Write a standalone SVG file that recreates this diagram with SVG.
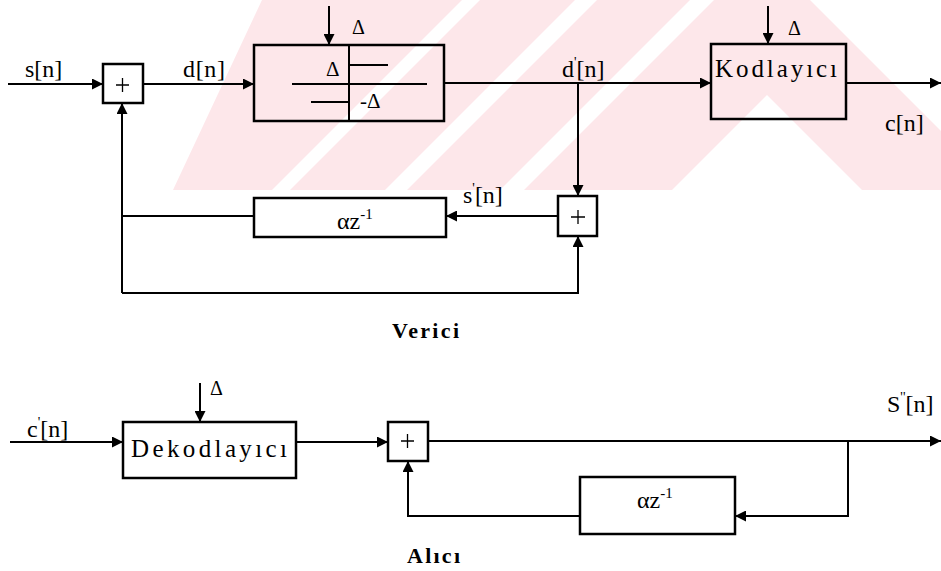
<svg xmlns="http://www.w3.org/2000/svg" width="941" height="571" viewBox="0 0 941 571">
<style>
  .ln{fill:none;stroke:#000;stroke-width:2}
  .bx{fill:none;stroke:#000;stroke-width:2.5}
  .pl{fill:none;stroke:#000;stroke-width:1.3}
  text{font-family:'Liberation Serif','DejaVu Serif',serif;fill:#000}
  .b{font-weight:bold}
  .wm{fill:#fde7ea}
  .wh{fill:#fff}
</style>
<defs>
  <marker id="ar" viewBox="0 0 10 10" refX="10" refY="5" markerWidth="11" markerHeight="11" markerUnits="userSpaceOnUse" orient="auto">
    <path d="M0,0 L10,5 L0,10 z" fill="#000"/>
  </marker>
</defs>
<rect width="941" height="571" fill="#fff"/>
<g id="watermark">
  <polygon class="wm" points="262,0 810,0 941,131 941,190 173,190"/>
  <polygon class="wh" points="767,95 672,190 862,190"/>
  <polygon class="wh" points="462,0 480,0 290,190 272,190"/>
  <polygon class="wh" points="575,0 597,0 407,190 385,190"/>
  <polygon class="wh" points="690,0 714,0 524,190 500,190"/>
</g>
<g id="connectors">
  <path class="ln" d="M8,84 H103" marker-end="url(#ar)"/>
  <path class="ln" d="M143,84 H254" marker-end="url(#ar)"/>
  <path class="ln" d="M329,6 V45" marker-end="url(#ar)"/>
  <path class="ln" d="M444,83 H711" marker-end="url(#ar)"/>
  <path class="ln" d="M768,6 V44" marker-end="url(#ar)"/>
  <path class="ln" d="M846,83 H941" marker-end="url(#ar)"/>
  <path class="ln" d="M578,83 V196" marker-end="url(#ar)"/>
  <path class="ln" d="M558,216 H446" marker-end="url(#ar)"/>
  <path class="ln" d="M254,216 H122"/>
  <path class="ln" d="M122,216 V293"/>
  <path class="ln" d="M122,216 V103" marker-end="url(#ar)"/>
  <path class="ln" d="M122,293 H578 V236" marker-end="url(#ar)"/>
  <path class="ln" d="M10,442 H123" marker-end="url(#ar)"/>
  <path class="ln" d="M200,383 V422" marker-end="url(#ar)"/>
  <path class="ln" d="M296,442 H388" marker-end="url(#ar)"/>
  <path class="ln" d="M428,441 H941" marker-end="url(#ar)"/>
  <path class="ln" d="M848,441 V516 H735" marker-end="url(#ar)"/>
  <path class="ln" d="M580,516 H408 V461" marker-end="url(#ar)"/>
</g>
<g id="adder1">
  <rect class="bx" x="103" y="64" width="40" height="39"/>
  <path class="pl" d="M116,85 H129 M122.5,78 V92"/>
</g>
<g id="quantizer">
  <rect class="bx" x="254" y="45" width="190" height="76"/>
  <path class="ln" d="M349,45 V121"/>
  <path class="ln" stroke-width="2.5" d="M349,65 H388 M292,84 H427 M311,102 H349"/>
  <text font-family="Liberation Serif" x="326" y="76" font-size="21">Δ</text>
  <text font-family="Liberation Serif" x="360" y="108" font-size="21">-Δ</text>
</g>
<g id="kodlayici">
  <rect class="bx" x="711" y="44" width="135" height="75"/>
  <text font-family="Liberation Serif" x="715" y="77" font-size="25" textLength="122" lengthAdjust="spacing">Kodlayıcı</text>
</g>
<g id="adder2">
  <rect class="bx" x="558" y="196" width="39" height="40"/>
  <path class="pl" d="M571,217 H585 M578,210 V224"/>
</g>
<g id="delay1">
  <rect class="bx" x="254" y="198" width="192" height="39"/>
  <text font-family="Liberation Serif" x="337" y="229" font-size="24">αz<tspan font-size="15" dy="-10">-1</tspan></text>
</g>
<g id="dekodlayici">
  <rect class="bx" x="123" y="422" width="173" height="56"/>
  <text font-family="Liberation Serif" x="131" y="457" font-size="25" textLength="156" lengthAdjust="spacing">Dekodlayıcı</text>
</g>
<g id="adder3">
  <rect class="bx" x="388" y="422" width="40" height="39"/>
  <path class="pl" d="M401,441 H414 M407.5,434 V448"/>
</g>
<g id="delay2">
  <rect class="bx" x="580" y="477" width="155" height="57"/>
  <text font-family="Liberation Serif" x="637" y="508" font-size="24">αz<tspan font-size="15" dy="-10">-1</tspan></text>
</g>
<g id="labels">
  <text font-family="Liberation Serif" x="25" y="77" font-size="24">s[n]</text>
  <text font-family="Liberation Serif" x="183" y="77" font-size="24" textLength="42" lengthAdjust="spacing">d[n]</text>
  <text font-family="Liberation Serif" x="352" y="34" font-size="20">Δ</text>
  <text font-family="Liberation Serif" x="562" y="77" font-size="24">d<tspan font-size="14" dy="-10">'</tspan><tspan dy="10">[n]</tspan></text>
  <text font-family="Liberation Serif" x="788" y="35" font-size="20">Δ</text>
  <text font-family="Liberation Serif" x="885" y="131" font-size="24">c[n]</text>
  <text font-family="Liberation Serif" x="463" y="203" font-size="24">s<tspan font-size="14" dy="-10">'</tspan><tspan dy="10">[n]</tspan></text>
  <text font-family="Liberation Serif" class="b" x="392" y="338" font-size="22" textLength="67" lengthAdjust="spacing">Verici</text>
  <text font-family="Liberation Serif" x="27" y="437" font-size="24">c<tspan font-size="14" dy="-10">'</tspan><tspan dy="10">[n]</tspan></text>
  <text font-family="Liberation Serif" x="210" y="395" font-size="20">Δ</text>
  <text font-family="Liberation Serif" x="887" y="412" font-size="24">S<tspan font-size="14" dy="-10">''</tspan><tspan dy="10">[n]</tspan></text>
  <text font-family="Liberation Serif" class="b" x="407" y="563" font-size="22" textLength="53" lengthAdjust="spacing">Alıcı</text>
</g>
</svg>
